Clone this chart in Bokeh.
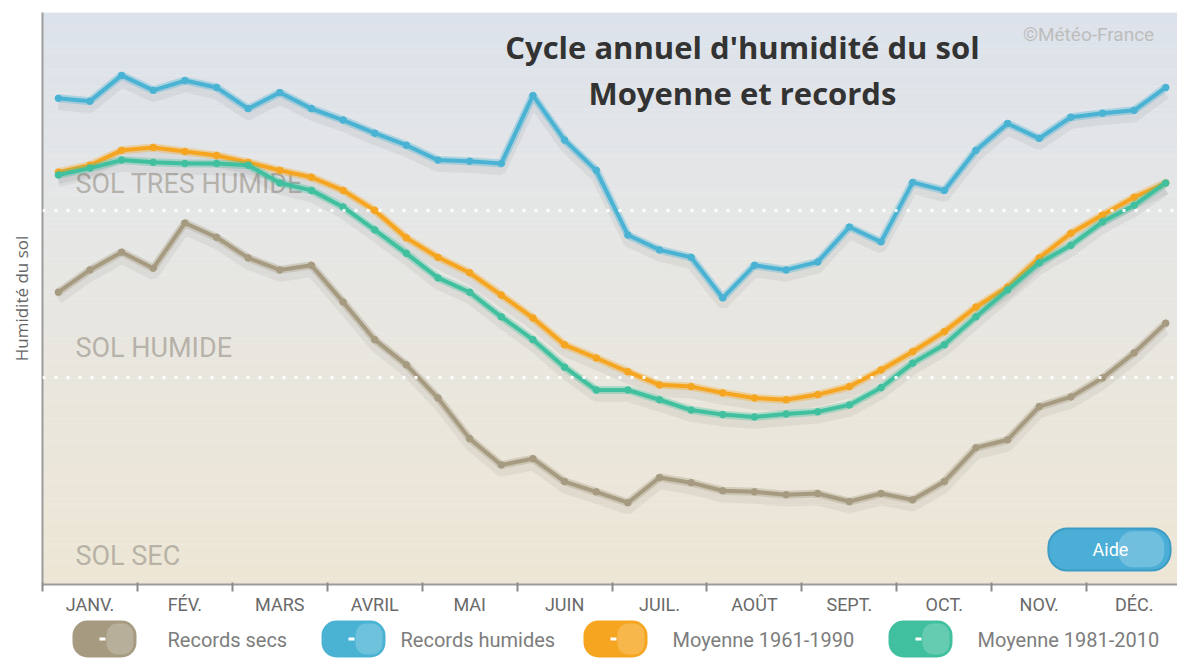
from bokeh.plotting import figure
from bokeh.models import Range1d, FixedTicker, Span
from bokeh.layouts import column
from bokeh.embed import file_html
from bokeh.resources import INLINE
from bokeh.core.properties import value

# ---------------- data (soil humidity index, by dekad) ----------------
months = ["JANV.", "FÉV.", "MARS", "AVRIL", "MAI", "JUIN",
          "JUIL.", "AOÛT", "SEPT.", "OCT.", "NOV.", "DÉC."]

records_secs = [51.1, 55.0, 58.1, 55.3, 63.2, 60.7, 57.1, 55.0, 55.8, 49.4, 42.8, 38.4,
                32.6, 25.5, 20.9, 22.0, 18.0, 16.2, 14.3, 18.7, 17.8, 16.4, 16.2, 15.7,
                15.9, 14.5, 15.9, 14.8, 18.0, 23.9, 25.3, 31.1, 32.8, 36.1, 40.5, 45.7]

records_humides = [85.0, 84.5, 89.0, 86.4, 88.1, 86.9, 83.2, 86.0, 83.2, 81.2, 78.9, 76.8,
                   74.2, 74.0, 73.6, 85.5, 77.7, 72.4, 61.1, 58.5, 57.2, 50.1, 55.8, 55.0,
                   56.4, 62.5, 59.9, 70.3, 68.9, 75.9, 80.6, 78.0, 81.7, 82.4, 82.9, 86.9]

moyenne_1961_1990 = [72.1, 73.3, 75.9, 76.4, 75.7, 75.0, 73.8, 72.4, 71.2, 68.9, 65.4, 60.6,
                     57.2, 54.5, 50.6, 46.6, 41.9, 39.6, 37.2, 34.9, 34.6, 33.5, 32.6, 32.3,
                     33.2, 34.6, 37.5, 40.7, 44.2, 48.5, 52.0, 57.1, 61.4, 64.6, 67.7, 70.2]

moyenne_1981_2010 = [71.6, 72.8, 74.2, 73.8, 73.6, 73.6, 73.3, 70.2, 68.9, 66.0, 62.0, 57.9,
                     53.6, 51.1, 46.8, 42.8, 38.0, 34.0, 34.0, 32.3, 30.5, 29.7, 29.3, 29.8,
                     30.2, 31.4, 34.4, 38.7, 41.9, 46.8, 51.5, 56.2, 59.3, 63.4, 66.3, 70.2]

seuil_tres_humide = 65.4
seuil_humide = 36.2

zones = ["SOL TRES HUMIDE", "SOL HUMIDE", "SOL SEC"]
zone_y = [70.1, 41.3, 4.9]

legend_labels = ["Records secs", "Records humides", "Moyenne 1961-1990", "Moyenne 1981-2010"]
colors = ["#a69b80", "#4ab3d4", "#f5a51f", "#40c09e"]
series = [records_secs, records_humides, moyenne_1961_1990, moyenne_1981_2010]

dekads = [i + 0.5 for i in range(len(records_secs))]

# ---------------- main figure ----------------
XMAX = 35.87
p = figure(width=1177, height=618, output_backend="svg", toolbar_location=None,
           x_range=Range1d(0, XMAX), y_range=Range1d(0, 100),
           min_border_left=42, min_border_right=0, min_border_top=12, min_border_bottom=34)
p.outline_line_color = None
p.background_fill_color = "white"
p.border_fill_color = "white"
p.xgrid.visible = False
p.ygrid.visible = False

# background gradient (blue-grey at top -> beige at bottom)
stops = [(0, (237, 230, 213)), (35, (233, 230, 221)), (65, (229, 230, 230)), (100, (220, 226, 235))]


def grad(v):
    for (a, ca), (b, cb) in zip(stops[:-1], stops[1:]):
        if a <= v <= b:
            t = (v - a) / (b - a)
            c = [round(ca[k] + (cb[k] - ca[k]) * t) for k in range(3)]
            return "#%02x%02x%02x" % tuple(c)
    return "#%02x%02x%02x" % stops[-1][1]


nb = 100
bot = [k * 100 / nb for k in range(nb)]
top = [(k + 1) * 100 / nb + 0.05 for k in range(nb)]
p.quad(left=0, right=XMAX, bottom=bot, top=top,
       fill_color=[grad((b + t) / 2) for b, t in zip(bot, top)], line_color=None)

# thresholds
for s in (seuil_tres_humide, seuil_humide):
    p.add_layout(Span(location=s, dimension="width", line_color="white",
                      line_width=3, line_dash="3 9", line_alpha=0.95))

# zone labels
p.text(x=[1.04] * 3, y=zone_y, text=zones, text_font=value("Roboto"),
       text_font_size="27px", text_color="#9a948a", text_alpha=0.65,
       text_baseline="middle", text_align="left")

# series
for ys, col in zip(series, colors):
    p.line(dekads, [v - 1.2 for v in ys], line_color="#000000", line_alpha=0.05, line_width=10)
for ys, col in zip(series, colors):
    p.line(dekads, ys, line_color=col, line_alpha=0.35, line_width=8)
    p.line(dekads, ys, line_color=col, line_width=4)
    p.scatter(dekads, ys, size=6.5, fill_color=col, line_color=col)

# title & credits
p.text(x=[22.12], y=[93.9], text=["Cycle annuel d'humidité du sol"], text_font=value("Open Sans"),
       text_font_style="bold", text_font_size="31px", text_color="#333333",
       text_align="center", text_baseline="alphabetic")
p.text(x=[22.12], y=[86.0], text=["Moyenne et records"], text_font=value("Open Sans"),
       text_font_style="bold", text_font_size="31px", text_color="#333333",
       text_align="center", text_baseline="alphabetic")
p.text(x=[33.06], y=[96.2], text=["©Météo-France"], text_font=value("Roboto"),
       text_font_size="19px", text_color="#bdbdbd", text_align="center", text_baseline="middle")

# "Aide" button
p.quad(left=31.79, right=35.65, bottom=2.45, top=9.8, fill_color="#4aaed6",
       line_color="#3d9cc4", line_width=2, border_radius=19)
p.quad(left=34.0, right=35.45, bottom=3.0, top=9.3, fill_color="white", fill_alpha=0.22,
       line_color=None, border_radius=15)
p.text(x=[33.75], y=[6.1], text=["Aide"], text_font=value("Roboto"), text_font_size="18px",
       text_color="white", text_align="center", text_baseline="middle")

# axes
p.yaxis.ticker = FixedTicker(ticks=[])
p.yaxis.axis_line_color = "#9c9c9c"
p.yaxis.axis_line_width = 2
p.yaxis.axis_label = "Humidité du sol"
p.yaxis.axis_label_text_font = "Open Sans"
p.yaxis.axis_label_text_font_style = "normal"
p.yaxis.axis_label_text_font_size = "17px"
p.yaxis.axis_label_text_color = "#666666"
p.yaxis.axis_label_standoff = 10
p.yaxis.major_tick_line_color = None
p.yaxis.minor_tick_line_color = None

centers = [1.5 + 3 * m for m in range(12)]
bounds = [3 * m for m in range(13)]
p.xaxis.ticker = FixedTicker(ticks=centers, minor_ticks=bounds)
p.xaxis.major_label_overrides = {c: m for c, m in zip(centers, months)}
p.xaxis.major_tick_line_color = None
p.xaxis.major_tick_out = 0
p.xaxis.major_tick_in = 0
p.xaxis.minor_tick_line_color = "#8a8a8a"
p.xaxis.minor_tick_line_width = 2
p.xaxis.minor_tick_in = 2
p.xaxis.minor_tick_out = 7
p.xaxis.axis_line_color = "#9c9c9c"
p.xaxis.axis_line_width = 2
p.xaxis.major_label_standoff = 2
p.xaxis.major_label_text_font = "Roboto"
p.xaxis.major_label_text_font_size = "18px"
p.xaxis.major_label_text_color = "#6a6a6a"

# ---------------- legend strip (frame aligned with the main frame) ----------------
lg = figure(width=1177, height=40, output_backend="svg", toolbar_location=None,
            x_range=Range1d(42, 1177), y_range=Range1d(40, 0),
            min_border_left=42, min_border_right=0, min_border_top=0, min_border_bottom=0)
lg.outline_line_color = None
lg.xaxis.visible = False
lg.yaxis.visible = False
lg.xgrid.visible = False
lg.ygrid.visible = False
pill_cx = [104, 353, 615, 920]
text_x = [167, 400, 672, 977]
lg.quad(left=[c - 32 for c in pill_cx], right=[c + 32 for c in pill_cx], top=2, bottom=39,
        fill_color=colors, line_color=None, border_radius=15)
lg.quad(left=[c + 2 for c in pill_cx], right=[c + 29 for c in pill_cx], top=5, bottom=36,
        fill_color="white", fill_alpha=0.2, line_color=None, border_radius=11)
lg.quad(left=[c - 5 for c in pill_cx], right=[c + 1 for c in pill_cx], top=19, bottom=22,
        fill_color="white", line_color=None)
lg.text(x=text_x, y=[21] * 4, text=legend_labels, text_font=value("Roboto"),
        text_font_size="20px", text_color="#7d7d7d", text_align="left",
        text_baseline="middle")

layout = column(p, lg, spacing=0)
open("out.html", "w").write(file_html(layout, INLINE))
